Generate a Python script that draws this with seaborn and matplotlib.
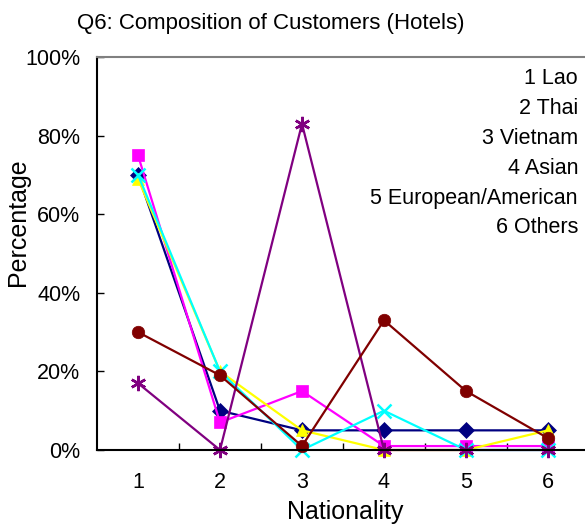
import matplotlib
matplotlib.use("Agg")
import matplotlib.pyplot as plt
from matplotlib.ticker import FixedLocator, PercentFormatter
import seaborn as sns
import pandas as pd

# Nationality categories (x axis)
nationality = [1, 2, 3, 4, 5, 6]
nationality_names = ["1 Lao", "2 Thai", "3 Vietnam", "4 Asian",
                     "5 European/American", "6 Others"]

# Share of customers by nationality, one series per hotel group (%)
hotels_a = [70, 10, 5, 5, 5, 5]
hotels_b = [75, 7, 15, 1, 1, 1]
hotels_c = [69, 20, 5, 0, 0, 5]
hotels_d = [70, 20, 0, 10, 0, 0]
hotels_e = [17, 0, 83, 0, 0, 0]
hotels_f = [30, 19, 1, 33, 15, 3]

series_names = ["A", "B", "C", "D", "E", "F"]
series_values = [hotels_a, hotels_b, hotels_c, hotels_d, hotels_e, hotels_f]
series_colors = ["#000080", "#FF00FF", "#FFFF00", "#00FFFF", "#800080", "#800000"]
series_markers = ["D", "s", "^", "x", (6, 2, 0), "o"]
marker_sizes = [8, 9, 9, 10, 11, 9]

rows = []
for name, vals in zip(series_names, series_values):
    for x, v in zip(nationality, vals):
        rows.append({"Nationality": x, "Percentage": v, "series": name})
df = pd.DataFrame(rows)

sns.set_theme(style="white")
plt.rcParams["font.family"] = ["Liberation Sans", "DejaVu Sans"]
plt.rcParams["xtick.direction"] = "in"
plt.rcParams["ytick.direction"] = "in"

fig = plt.figure(figsize=(5.85, 5.26), dpi=100)
ax = fig.add_axes([97 / 585, 76 / 526, 492 / 585, 393 / 526])

for name, color, marker, ms in zip(series_names, series_colors,
                                   series_markers, marker_sizes):
    sub = df[df["series"] == name]
    sns.lineplot(data=sub, x="Nationality", y="Percentage", ax=ax,
                 color=color, marker=marker, markersize=ms,
                 markeredgecolor=color,
                 markeredgewidth=1.8 if marker in ("x", (6, 2, 0)) else 0.5,
                 linewidth=1.6, legend=False, clip_on=False)

ax.set_xlim(0.5, 6.5)
ax.set_ylim(0, 100)
ax.set_xticks(nationality)
ax.set_xticklabels([str(n) for n in nationality], fontsize=15.5)
ax.xaxis.set_minor_locator(FixedLocator([1.5, 2.5, 3.5, 4.5, 5.5]))
ax.tick_params(axis="x", which="major", length=0, pad=15.5)
ax.tick_params(axis="x", which="minor", direction="in", length=5,
               width=1, color="black", bottom=True)
ax.set_yticks([0, 20, 40, 60, 80, 100])
ax.yaxis.set_major_formatter(PercentFormatter(decimals=0))
ax.tick_params(axis="y", direction="in", length=5, width=1, color="black",
               left=True, labelsize=15.5, pad=12)
for lbl in ax.get_yticklabels() + ax.get_xticklabels():
    lbl.set_color("black")

ax.set_xlabel("")
ax.set_ylabel("")
for side in ["left", "bottom"]:
    ax.spines[side].set_color("black")
    ax.spines[side].set_linewidth(1.5)
ax.spines["top"].set_color("#808080")
ax.spines["top"].set_linewidth(1.5)
ax.spines["right"].set_visible(False)

fig.text(271 / 585, 1 - 23 / 526, "Q6: Composition of Customers (Hotels)",
         ha="center", va="center", fontsize=16, color="black")
fig.text(18 / 585, 1 - 222 / 526, "Percentage", rotation=90,
         ha="center", va="center", fontsize=18, color="black")
fig.text(345 / 585, 1 - 512 / 526, "Nationality",
         ha="center", va="center", fontsize=18, color="black")

for i, label in enumerate(nationality_names):
    fig.text(578 / 585, 1 - (79 + i * 29.8) / 526, label,
             ha="right", va="center", fontsize=15.5, color="black")

fig.savefig("out.png", dpi=100)
